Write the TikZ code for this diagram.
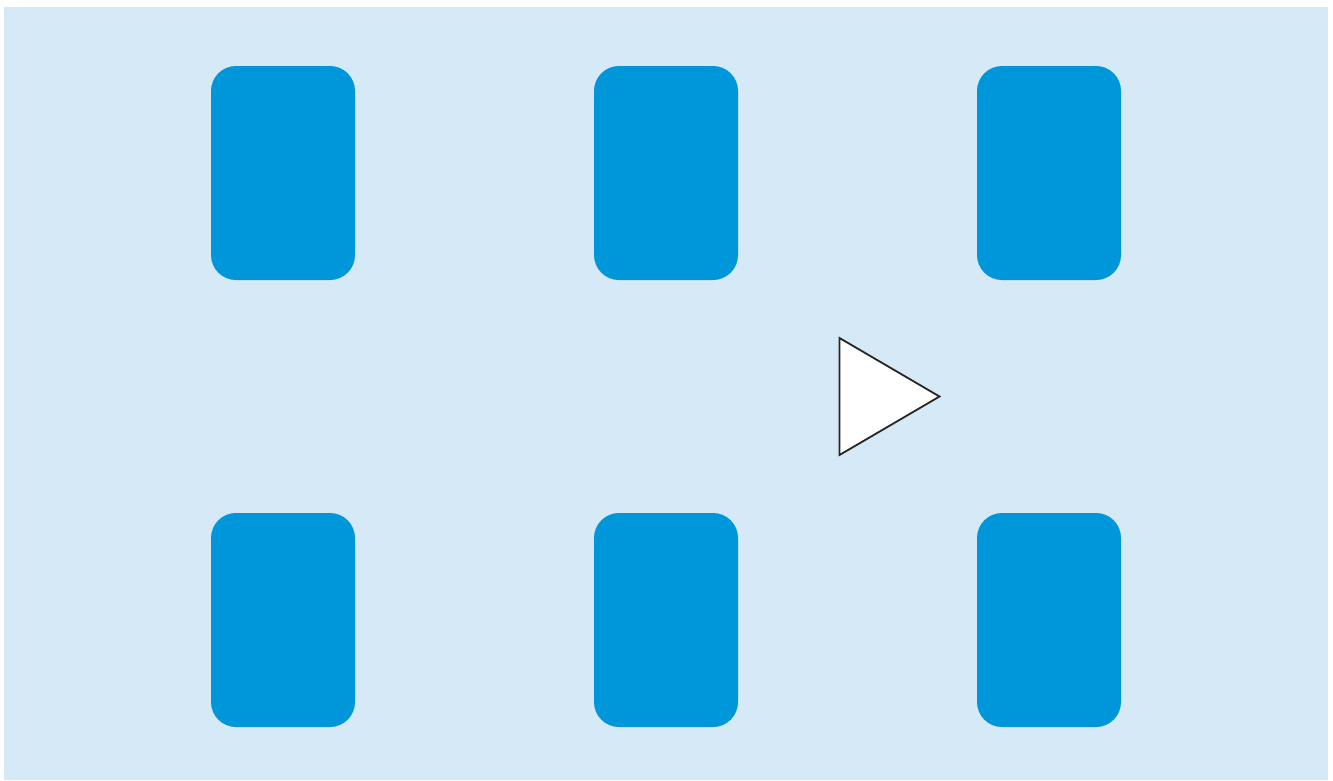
\documentclass[tikz,border=0pt]{standalone}
\usetikzlibrary{shapes.geometric}
\definecolor{bgblue}{HTML}{D6E9F6}
\definecolor{cardblue}{HTML}{0096DA}
\begin{document}
\begin{tikzpicture}[x=1pt,y=-1pt,
  card/.style={fill=cardblue, draw=none, rounded corners=25pt, minimum width=144pt, minimum height=214pt, inner sep=0pt}]
\useasboundingbox (0,0) rectangle (1333,780);
\fill[bgblue] (4,7) rectangle (1328,780);
\node[card] (c11) at (283,173) {};
\node[card] (c12) at (666,173) {};
\node[card] (c13) at (1049,173) {};
\node[card] (c21) at (283,620) {};
\node[card] (c22) at (666,620) {};
\node[card] (c23) at (1049,620) {};
\coordinate (t1) at (839.5,338);
\coordinate (t2) at (839.5,455);
\coordinate (t3) at (939.5,396.5);
\draw[fill=white, draw=black!85, line width=1.8pt, line join=miter] (t1) -- (t3) -- (t2) -- cycle;
\end{tikzpicture}
\end{document}
